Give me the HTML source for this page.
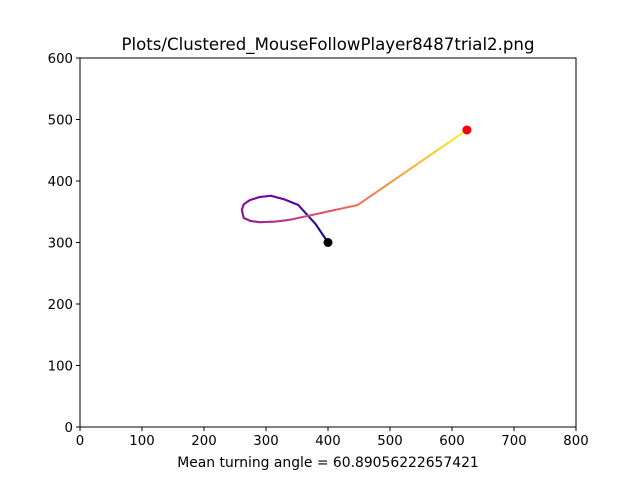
<!DOCTYPE html>
<html><head><meta charset="utf-8"><style>
body{margin:0;background:#fff;}
svg{display:block;font-family:"DejaVu Sans","Liberation Sans",sans-serif;}
</style></head><body>
<svg id="chart" width="640" height="480">
<rect width="640" height="480" fill="#fff"/>
<text x="328" y="50" font-size="16.6" text-anchor="middle">Plots/Clustered_MouseFollowPlayer8487trial2.png</text>
<g id="traj"></g>
<g id="axes"></g>
<text x="328" y="467" font-size="13.9" text-anchor="middle">Mean turning angle = 60.89056222657421</text>
</svg>
<script>
const xs=[400,380,352,330,308,290,274,264,261,264,275,290,315,339,448,624];
const ys=[300,330,361,370,376,374,369,362,353,340,335,333,334,337,361,483];
const xTicks=[0,100,200,300,400,500,600,700,800];
const yTicks=[0,100,200,300,400,500,600];
const X0=80,X1=576,Y0=427,Y1=58;
const sx=v=>X0+(v-0)/800*(X1-X0);
const sy=v=>Y0-(v-0)/600*(Y0-Y1);
const NS="http://www.w3.org/2000/svg";
const tr=document.getElementById('traj');
const ax=document.getElementById('axes');
const plasma=[[13,8,135],[84,2,163],[139,10,165],[185,50,137],[219,92,104],[244,136,73],[254,188,43],[240,249,33]];
function cmap(t){const f=t*(plasma.length-1),i=Math.min(Math.floor(f),plasma.length-2),u=f-i;
 const a=plasma[i],b=plasma[i+1];return `rgb(${a.map((c,k)=>Math.round(c+(b[k]-c)*u)).join(',')})`;}
let L=[0];for(let i=1;i<xs.length;i++){L.push(L[i-1]+Math.hypot(sx(xs[i])-sx(xs[i-1]),sy(ys[i])-sy(ys[i-1])));}
const tot=L[L.length-1];
for(let i=1;i<xs.length;i++){
 const n=12;
 for(let k=0;k<n;k++){
  const u0=k/n,u1=(k+1)/n;
  const x0=xs[i-1]+(xs[i]-xs[i-1])*u0,y0=ys[i-1]+(ys[i]-ys[i-1])*u0;
  const x1=xs[i-1]+(xs[i]-xs[i-1])*u1,y1=ys[i-1]+(ys[i]-ys[i-1])*u1;
  const t=(L[i-1]+(L[i]-L[i-1])*(u0+u1)/2)/tot;
  const l=document.createElementNS(NS,'line');
  l.setAttribute('x1',sx(x0));l.setAttribute('y1',sy(y0));l.setAttribute('x2',sx(x1));l.setAttribute('y2',sy(y1));
  l.setAttribute('stroke',cmap(t));l.setAttribute('stroke-width','2');l.setAttribute('stroke-linecap','round');
  
  
  tr.appendChild(l);
 }
}
function dot(x,y,c,name){const e=document.createElementNS(NS,'circle');e.setAttribute('cx',sx(x));e.setAttribute('cy',sy(y));e.setAttribute('r','4.5');e.setAttribute('fill',c);
 
 
 tr.appendChild(e);}
dot(xs[0],ys[0],'#000','start-point');
dot(xs[xs.length-1],ys[ys.length-1],'#f00','end-point');
const fr=document.createElementNS(NS,'rect');
fr.setAttribute('x',X0);fr.setAttribute('y',Y1);fr.setAttribute('width',X1-X0);fr.setAttribute('height',Y0-Y1);
fr.setAttribute('fill','none');fr.setAttribute('stroke','#000');fr.setAttribute('stroke-width','1');


ax.appendChild(fr);
xTicks.forEach(v=>{const x=sx(v);
 const l=document.createElementNS(NS,'line');l.setAttribute('x1',x);l.setAttribute('x2',x);l.setAttribute('y1',Y0);l.setAttribute('y2',Y0+4);l.setAttribute('stroke','#000');
 
 
 ax.appendChild(l);
 const t=document.createElementNS(NS,'text');t.setAttribute('x',x);t.setAttribute('y',Y0+18);t.setAttribute('font-size','13.3');t.setAttribute('text-anchor','middle');t.textContent=v;
 
 
 ax.appendChild(t);});
yTicks.forEach(v=>{const y=sy(v);
 const l=document.createElementNS(NS,'line');l.setAttribute('x1',X0-4);l.setAttribute('x2',X0);l.setAttribute('y1',y);l.setAttribute('y2',y);l.setAttribute('stroke','#000');
 
 
 ax.appendChild(l);
 const t=document.createElementNS(NS,'text');t.setAttribute('x',X0-7);t.setAttribute('y',y+5);t.setAttribute('font-size','13.3');t.setAttribute('text-anchor','end');t.textContent=v;
 
 
 ax.appendChild(t);});
</script>
</body></html>
